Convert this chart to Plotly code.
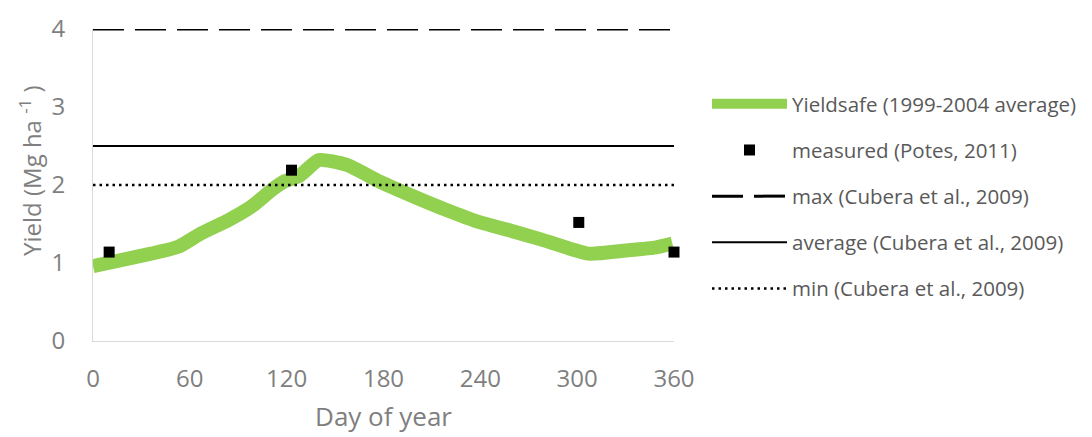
import plotly.graph_objects as go

# Yieldsafe simulated curve (day of year, yield Mg/ha)
sim_day = [0, 16, 36, 53, 67, 84, 98, 111, 119, 128, 140, 157, 178, 199, 219, 240, 258, 278, 307, 330, 349, 359]
sim_val = [0.96, 1.03, 1.12, 1.21, 1.38, 1.55, 1.72, 1.94, 2.05, 2.12, 2.32, 2.26, 2.04, 1.85, 1.68, 1.52, 1.42, 1.30, 1.12, 1.16, 1.20, 1.25]

# measured points
meas_day = [10, 123, 301, 360]
meas_val = [1.14, 2.19, 1.52, 1.14]

# reference levels (Cubera et al., 2009)
ref_day = [0, 360]
max_val = [4, 4]
avg_val = [2.5, 2.5]
min_val = [2, 2]

x_ticks = [0, 60, 120, 180, 240, 300, 360]
y_ticks = [0, 1, 2, 3, 4]

FONT = "Open Sans"
GRAY = "#7f7f7f"

fig = go.Figure()
fig.add_trace(go.Scatter(x=sim_day, y=sim_val, mode="lines", name="Yieldsafe (1999-2004 average)",
                         line=dict(color="#92d050", width=14, shape="spline", smoothing=0.5),
                         legendgroup="a"))
fig.add_trace(go.Scatter(x=meas_day, y=meas_val, mode="markers", name="measured (Potes, 2011)",
                         marker=dict(symbol="square", color="black", size=11),
                         cliponaxis=False, legendgroup="b"))
fig.add_trace(go.Scatter(x=ref_day, y=max_val, mode="lines", name="max (Cubera et al., 2009)",
                         line=dict(color="black", width=3, dash="31px,11px"), legendgroup="c"))
fig.add_trace(go.Scatter(x=ref_day, y=avg_val, mode="lines", name="average (Cubera et al., 2009)",
                         line=dict(color="black", width=2), legendgroup="d"))
fig.add_trace(go.Scatter(x=ref_day, y=min_val, mode="lines", name="min (Cubera et al., 2009)",
                         line=dict(color="black", width=2.5, dash="2.5px,4px"), legendgroup="e"))

fig.update_layout(
    width=1084, height=429,
    margin=dict(l=85, r=418, t=21, b=96, autoexpand=False),
    paper_bgcolor="white", plot_bgcolor="white",
    font=dict(family=FONT, color=GRAY),
    showlegend=True,
    legend=dict(x=1.0568, y=0.8237, xanchor="left", yanchor="top",
                font=dict(family=FONT, size=20.5, color="#595959"),
                tracegroupgap=16.5, itemwidth=75, bgcolor="rgba(0,0,0,0)"),
    xaxis=dict(range=[0, 360], tickvals=x_ticks, showgrid=False, zeroline=False,
               showline=True, linecolor="#d9d9d9", linewidth=1, ticks="", automargin=False,
               tickfont=dict(size=24, color=GRAY), ticklabelstandoff=16,
               title=dict(text="Day of year", font=dict(size=26, color=GRAY), standoff=15)),
    yaxis=dict(range=[0, 4], tickvals=y_ticks, showgrid=False, zeroline=False,
               showline=True, linecolor="#d9d9d9", linewidth=1, ticks="", automargin=False,
               tickfont=dict(size=24, color=GRAY), ticklabelstandoff=22),
    annotations=[dict(text="Yield (Mg ha <sup>-1</sup> )", textangle=-90,
                      xref="paper", yref="paper", x=-0.1067, y=0.545,
                      xanchor="center", yanchor="middle", showarrow=False,
                      font=dict(family=FONT, size=24, color=GRAY))],
)

fig.write_html("out.html")
